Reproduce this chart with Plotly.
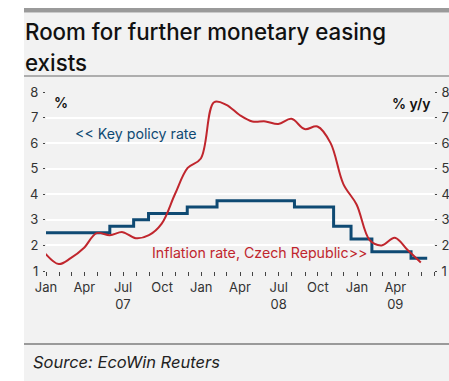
import plotly.graph_objects as go

# ---------------- data ----------------
rate_dates = ["2007-01-01", "2007-05-31", "2007-07-26", "2007-08-30", "2007-11-29",
              "2008-02-07", "2008-08-07", "2008-11-07", "2008-12-18", "2009-02-05",
              "2009-05-08", "2009-06-15"]
rate_values = [2.50, 2.75, 3.00, 3.25, 3.50, 3.75, 3.50, 2.75, 2.25, 1.75, 1.50, 1.50]

cpi_dates = ["2006-12-31", "2007-01-31", "2007-02-28", "2007-03-31", "2007-04-30",
             "2007-05-31", "2007-06-30", "2007-07-31", "2007-08-31", "2007-09-30",
             "2007-10-31", "2007-11-30", "2007-12-31", "2008-01-31", "2008-02-29",
             "2008-03-31", "2008-04-30", "2008-05-31", "2008-06-30", "2008-07-31",
             "2008-08-31", "2008-09-30", "2008-10-31", "2008-11-30", "2008-12-31",
             "2009-01-31", "2009-02-28", "2009-03-31", "2009-04-30", "2009-05-31"]
cpi_values = [1.67, 1.27, 1.50, 1.90, 2.48, 2.40, 2.52, 2.28, 2.40, 2.85,
              4.00, 5.03, 5.40, 7.60, 7.50, 7.10, 6.85, 6.85, 6.75, 6.95,
              6.55, 6.65, 6.00, 4.40, 3.60, 2.20, 2.00, 2.30, 1.82, 1.33]

tick_vals = ["2007-01-01", "2007-04-01", "2007-07-01", "2007-10-01",
             "2008-01-01", "2008-04-01", "2008-07-01", "2008-10-01",
             "2009-01-01", "2009-04-01"]
tick_text = ["Jan", "Apr", "Jul<br>07", "Oct", "Jan", "Apr", "Jul<br>08", "Oct",
             "Jan", "Apr<br>09"]
year_ticks = ["2007-01-01", "2008-01-01", "2009-01-01"]

# ---------------- layout geometry ----------------
W, H = 449, 381
L, R, T, B = 46, 15, 92, 110
PW, PH = W - L - R, H - T - B


def px(x):
    return (x - L) / PW


def py(y):
    return (H - B - y) / PH


NAVY = "#0f4a73"
RED = "#c0262d"
BG = "#f2f2f2"
FONT = "Inter"

fig = go.Figure()
fig.add_trace(go.Scatter(x=rate_dates, y=rate_values, mode="lines",
                         line=dict(color=NAVY, width=3, shape="hv"),
                         hoverinfo="skip", showlegend=False))
fig.add_trace(go.Scatter(x=cpi_dates, y=cpi_values, mode="lines", yaxis="y2",
                         line=dict(color=RED, width=2, shape="spline", smoothing=1),
                         hoverinfo="skip", showlegend=False))

tickfont = dict(family=FONT, size=13, color="#333333")

fig.update_layout(
    width=W, height=H,
    margin=dict(l=L, r=R, t=T, b=B, pad=0, autoexpand=False),
    paper_bgcolor="white", plot_bgcolor=BG,
    xaxis=dict(type="date", range=["2007-01-01", "2009-07-01"],
               tickmode="array", tickvals=tick_vals, ticktext=tick_text,
               ticks="outside", ticklen=4, tickwidth=1, tickcolor="#444444",
               minor=dict(dtick="M1", tick0="2007-01-01", ticks="outside",
                          ticklen=4, tickwidth=1, tickcolor="#444444", showgrid=False),
               showgrid=False, zeroline=False, showline=False, automargin=False,
               tickfont=tickfont, fixedrange=True),
    xaxis2=dict(type="date", range=["2007-01-01", "2009-07-01"], overlaying="x",
                anchor="y", tickmode="array", tickvals=year_ticks,
                ticks="outside", ticklen=8, tickwidth=1, tickcolor="#444444",
                showticklabels=False, showgrid=False, zeroline=False, showline=False,
                automargin=False),
    yaxis=dict(range=[1, 8], dtick=1, ticks="outside", ticklen=2, tickcolor="#444444",
               showgrid=True, gridcolor="white", gridwidth=1.5, zeroline=False,
               showline=False, tickfont=tickfont, ticklabelstandoff=2, automargin=False),
    yaxis2=dict(range=[1, 8], dtick=1, overlaying="y", side="right",
                ticks="outside", ticklen=2, tickcolor="#444444",
                showgrid=False, zeroline=False, showline=False, tickfont=tickfont,
                ticklabelstandoff=2, automargin=False),
)

# panel background and decorative rules
fig.add_shape(type="rect", xref="paper", yref="paper", layer="below",
              x0=px(24), x1=px(449), y0=py(381), y1=py(12.5),
              fillcolor=BG, line_width=0)
fig.add_shape(type="rect", xref="paper", yref="paper",
              x0=px(24), x1=px(449), y0=py(12.5), y1=py(8),
              fillcolor="#9a9a9a", line_width=0)
fig.add_shape(type="line", xref="paper", yref="paper",
              x0=px(24), x1=px(449), y0=py(76), y1=py(76),
              line=dict(color="#6b6b6b", width=1))
fig.add_shape(type="line", xref="paper", yref="paper",
              x0=px(24), x1=px(449), y0=py(344), y1=py(344),
              line=dict(color="#9a9a9a", width=2))


def note(text, x, y, font, xanchor="center"):
    fig.add_annotation(text=text, xref="paper", yref="paper", x=px(x), y=py(y),
                       xanchor=xanchor, yanchor="middle", showarrow=False, font=font)


# texts
title_font = dict(family=FONT, size=22.3, color="#111111", weight=500)
note("Room for further monetary easing", 23, 31, title_font, "left")
note("exists", 23, 63, title_font, "left")
bold14 = dict(family=FONT, size=14, color="#111111", weight=600)
note("%", 61, 102, bold14)
note("% y/y", 411, 103, bold14)
note("<< Key policy rate", 73, 133, dict(family=FONT, size=14.2, color=NAVY), "left")
note("Inflation rate, Czech Republic>>", 150, 252,
     dict(family=FONT, size=14.2, color=RED), "left")
note("<i>Source: EcoWin Reuters</i>", 31, 362,
     dict(family=FONT, size=16.5, color="#222222"), "left")

fig.write_html("out.html")
